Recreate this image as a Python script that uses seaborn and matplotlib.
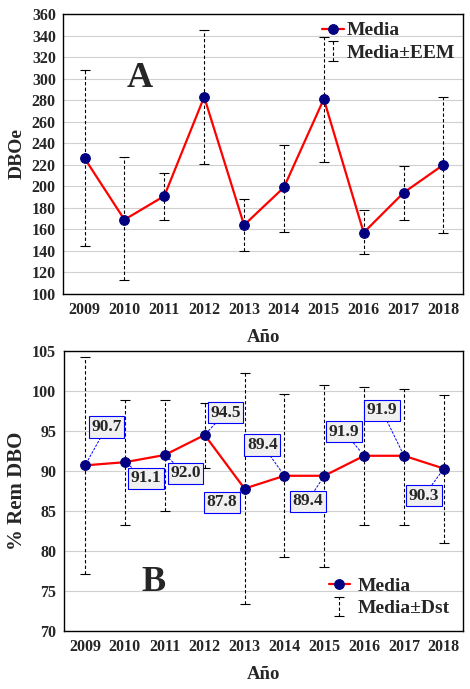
import numpy as np
import pandas as pd
import seaborn as sns
import matplotlib.pyplot as plt

years = [2009, 2010, 2011, 2012, 2013, 2014, 2015, 2016, 2017, 2018]

# panel A: DBOe mean and mean +/- EEM
dboe_mean = [226, 169, 191, 283, 164, 199, 281, 157, 194, 220]
dboe_upper = [308, 227, 212, 345, 188, 238, 339, 178, 219, 283]
dboe_lower = [145, 113, 169, 221, 140, 158, 223, 137, 169, 157]

# panel B: % Rem DBO mean and mean +/- Dst
rem_mean = [90.7, 91.1, 92.0, 94.5, 87.8, 89.4, 89.4, 91.9, 91.9, 90.3]
rem_upper = [104.2, 98.9, 98.9, 98.5, 102.3, 99.6, 100.7, 100.5, 100.3, 99.5]
rem_lower = [77.1, 83.2, 85.0, 90.4, 73.4, 79.2, 78.0, 83.2, 83.2, 81.0]
rem_labels = ["90.7", "91.1", "92.0", "94.5", "87.8", "89.4", "89.4", "91.9", "91.9", "90.3"]
label_x = [2009.54, 2010.52, 2011.52, 2012.52, 2012.43, 2013.45, 2014.58, 2015.5, 2016.44, 2017.5]
label_y = [95.5, 89.1, 89.7, 97.3, 86.1, 93.25, 86.2, 94.9, 97.6, 86.9]

sns.set_style("whitegrid", {"grid.color": "#d0d0d0", "axes.edgecolor": "black"})
plt.rcParams["font.family"] = ["Liberation Serif", "DejaVu Serif"]
plt.rcParams["font.weight"] = "bold"

fig = plt.figure(figsize=(4.7, 6.89), dpi=100)
axA = fig.add_axes([0.135, 0.5733, 0.850, 0.4064])
axB = fig.add_axes([0.136, 0.0842, 0.850, 0.4064])


def draw(ax, mean, upper, lower, err_label):
    mean = np.array(mean)
    yerr = [mean - np.array(lower), np.array(upper) - mean]
    eb = ax.errorbar(years, mean, yerr=yerr, fmt="none", ecolor="black",
                     elinewidth=0.8, capsize=3.5, capthick=0.8, label=err_label)
    eb[2][0].set_linestyle((0, (3, 2)))
    df = pd.DataFrame({"year": years, "mean": mean})
    sns.lineplot(data=df, x="year", y="mean", ax=ax, color="red", lw=1.6,
                 marker="o", markersize=7, markerfacecolor="#000080",
                 markeredgecolor="#000080", label="Media", zorder=5)
    ax.set_xlim(2008.47, 2018.49)
    ax.set_xticks(years)
    ax.grid(axis="x", visible=False)
    for s in ax.spines.values():
        s.set_color("black")
        s.set_linewidth(1.0)
    ax.tick_params(labelsize=11.5, pad=2)
    for t in ax.get_xticklabels() + ax.get_yticklabels():
        t.set_fontweight("bold")
    ax.set_xlabel("Año", fontsize=13.5, fontweight="bold", labelpad=8)
    h, l = ax.get_legend_handles_labels()
    order = [l.index("Media"), l.index(err_label)]
    return [h[i] for i in order], [l[i] for i in order]


h, l = draw(axA, dboe_mean, dboe_upper, dboe_lower, "Media±EEM")
axA.set_ylim(100, 360)
axA.set_yticks(range(100, 361, 20))
axA.set_ylabel("DBOe", fontsize=14, fontweight="bold", labelpad=4)
axA.text(2010.37, 300, "A", fontsize=26, fontweight="bold", ha="center", va="center")
axA.legend(h, l, loc="upper right", frameon=False, fontsize=14, handlelength=1.1,
           handletextpad=0.15, borderaxespad=0.2, borderpad=0.2, labelspacing=0.25)

h, l = draw(axB, rem_mean, rem_upper, rem_lower, "Media±Dst")
axB.set_ylim(70, 105)
axB.set_yticks(range(70, 106, 5))
axB.set_ylabel("% Rem DBO", fontsize=15, fontweight="bold", labelpad=4)
axB.text(2010.72, 76, "B", fontsize=26, fontweight="bold", ha="center", va="center")
axB.legend(h, l, loc="lower right", frameon=False, fontsize=14, handlelength=1.1,
           handletextpad=0.4, borderaxespad=0.5, borderpad=0.2, labelspacing=0.25)

for x, y, txt, lx, ly in zip(years, rem_mean, rem_labels, label_x, label_y):
    axB.annotate(txt, xy=(x, y), xytext=(lx, ly), fontsize=12.5, fontweight="bold",
                 ha="center", va="center", zorder=6,
                 bbox=dict(boxstyle="square,pad=0.15", fc="#f0f0f0", ec="blue", lw=0.8),
                 arrowprops=dict(arrowstyle="-", color="blue", lw=0.7,
                                 linestyle=(0, (2, 2)), shrinkA=0, shrinkB=4))

fig.savefig("out.png", dpi=100)
